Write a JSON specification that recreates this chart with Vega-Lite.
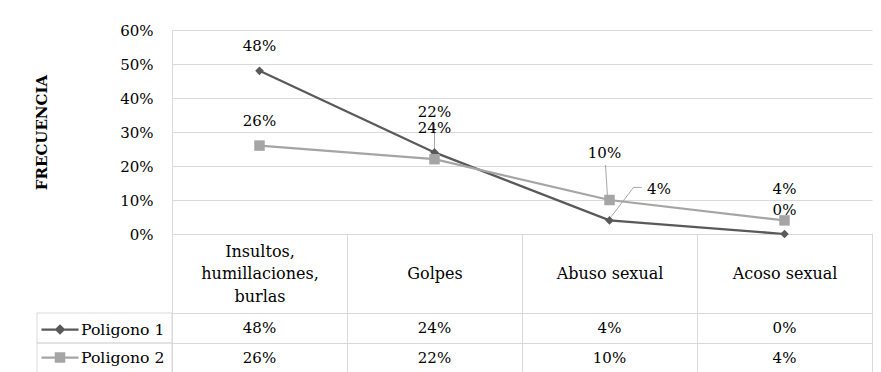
{
  "$schema": "https://vega.github.io/schema/vega-lite/v6.json",
  "background": "white",
  "padding": {"left": 34, "top": 23, "right": 8, "bottom": 0},
  "datasets": {
    "frecuencia": [
      {"category": "Insultos, humillaciones, burlas", "series": "Poligono 1", "value": 0.48},
      {"category": "Golpes", "series": "Poligono 1", "value": 0.24},
      {"category": "Abuso sexual", "series": "Poligono 1", "value": 0.04},
      {"category": "Acoso sexual", "series": "Poligono 1", "value": 0.0},
      {"category": "Insultos, humillaciones, burlas", "series": "Poligono 2", "value": 0.26},
      {"category": "Golpes", "series": "Poligono 2", "value": 0.22},
      {"category": "Abuso sexual", "series": "Poligono 2", "value": 0.10},
      {"category": "Acoso sexual", "series": "Poligono 2", "value": 0.04}
    ]
  },
  "columns": 2,
  "spacing": {"row": 79, "column": 0},
  "bounds": "flush",
  "align": "each",
  "resolve": {"scale": {"color": "independent"}},
  "concat": [
    {
      "width": 135,
      "height": 204,
      "data": {"values": []},
      "mark": "text"
    },
    {
      "width": 700,
      "height": 204,
      "data": {"name": "frecuencia"},
      "encoding": {
        "x": {
          "field": "category",
          "type": "nominal",
          "sort": null,
          "scale": {"type": "band", "paddingInner": 0, "paddingOuter": 0},
          "axis": {
            "title": null,
            "orient": "bottom",
            "domain": true,
            "domainColor": "#d9d9d9",
            "ticks": true,
            "tickBand": "extent",
            "tickSize": 79,
            "tickColor": "#d9d9d9",
            "grid": false,
            "labelAngle": 0,
            "labelFontSize": 16,
            "labelExpr": "indexof(datum.label, ',') >= 0 ? split(replace(replace(datum.label, ', ', ',|'), ', ', ',|'), '|') : ['', datum.label]",
            "labelBaseline": "middle",
            "labelLineHeight": 22.5,
            "labelPadding": -62
          }
        },
        "y": {
          "field": "value",
          "type": "quantitative",
          "scale": {"domain": [0, 0.6], "nice": false},
          "axis": {
            "title": "FRECUENCIA",
            "titleFontWeight": "bold",
            "titleFontSize": 15,
            "titleColor": "#000",
            "titlePadding": 70,
            "values": [0, 0.1, 0.2, 0.3, 0.4, 0.5, 0.6],
            "format": ".0%",
            "grid": true,
            "gridColor": "#d9d9d9",
            "domain": true,
            "domainColor": "#d9d9d9",
            "ticks": false,
            "labelPadding": 19
          }
        }
      },
      "layer": [
        {
          "mark": {"type": "line", "strokeWidth": 2.25},
          "encoding": {
            "color": {
              "field": "series",
              "type": "nominal",
              "scale": {"domain": ["Poligono 1", "Poligono 2"], "range": ["#595959", "#a5a5a5"]},
              "legend": {
                "orient": "none",
                "legendX": -121,
                "legendY": 290.5,
                "title": null,
                "direction": "vertical",
                "padding": 0,
                "rowPadding": 10,
                "symbolSize": 225,
                "labelOffset": 12,
                "labelFontSize": 15.7,
                "labelColor": "#000",
                "encode": {
                  "symbols": {
                    "update": {
                      "shape": {"signal": "datum.value === 'Poligono 1' ? 'M-2.47,0H2.47M0,-0.5L0.5,0L0,0.5L-0.5,0Z' : 'M-2.47,0H2.47M-0.55,-0.55H0.55V0.55H-0.55Z'"},
                      "fill": {"signal": "datum.value === 'Poligono 1' ? '#595959' : '#a5a5a5'"},
                      "stroke": {"signal": "datum.value === 'Poligono 1' ? '#595959' : '#a5a5a5'"},
                      "strokeWidth": {"value": 2.25},
                      "opacity": {"value": 1}
                    }
                  }
                }
              }
            }
          }
        },
        {
          "transform": [{"filter": "datum.series === 'Poligono 2' && datum.category === 'Golpes'"}],
          "mark": {"type": "rule", "color": "#a6a6a6", "strokeWidth": 1, "yOffset": -7, "y2Offset": -36},
          "encoding": {"y2": {"field": "value"}}
        },
        {
          "transform": [{"filter": "datum.series === 'Poligono 2' && datum.category === 'Abuso sexual'"}],
          "mark": {"type": "rule", "color": "#a6a6a6", "strokeWidth": 1, "xOffset": -2, "yOffset": -3, "x2Offset": -4, "y2Offset": -35},
          "encoding": {"x2": {"field": "category"}, "y2": {"field": "value"}}
        },
        {
          "transform": [{"filter": "datum.series === 'Poligono 1' && datum.category === 'Abuso sexual'"}],
          "mark": {"type": "rule", "color": "#a6a6a6", "strokeWidth": 1, "xOffset": 1.7, "yOffset": -3.7, "x2Offset": 24, "y2Offset": -33},
          "encoding": {"x2": {"field": "category"}, "y2": {"field": "value"}}
        },
        {
          "transform": [{"filter": "datum.series === 'Poligono 1' && datum.category === 'Abuso sexual'"}],
          "mark": {"type": "rule", "color": "#a6a6a6", "strokeWidth": 1, "xOffset": 24, "yOffset": -33, "x2Offset": 32.3, "y2Offset": -33},
          "encoding": {"x2": {"field": "category"}, "y2": {"field": "value"}}
        },
        {
          "transform": [{"filter": "datum.series === 'Poligono 1'"}],
          "mark": {"type": "point", "filled": true, "opacity": 1, "shape": "diamond", "size": 75, "color": "#595959"}
        },
        {
          "transform": [{"filter": "datum.series === 'Poligono 2'"}],
          "mark": {"type": "point", "filled": true, "opacity": 1, "shape": "square", "size": 110, "color": "#a5a5a5"}
        },
        {
          "transform": [{"filter": "!((datum.series === 'Poligono 2' && datum.category !== 'Insultos, humillaciones, burlas') || (datum.series === 'Poligono 1' && datum.category === 'Abuso sexual'))"}],
          "mark": {"type": "text", "fontSize": 15, "color": "#000", "baseline": "middle", "dy": -24.5},
          "encoding": {"text": {"field": "value", "type": "quantitative", "format": ".0%"}}
        },
        {
          "transform": [{"filter": "datum.series === 'Poligono 2' && datum.category === 'Golpes'"}],
          "mark": {"type": "text", "fontSize": 15, "color": "#000", "baseline": "middle", "dy": -47.7},
          "encoding": {"text": {"field": "value", "type": "quantitative", "format": ".0%"}}
        },
        {
          "transform": [{"filter": "datum.series === 'Poligono 2' && datum.category === 'Abuso sexual'"}],
          "mark": {"type": "text", "fontSize": 15, "color": "#000", "baseline": "middle", "dx": -5, "dy": -47},
          "encoding": {"text": {"field": "value", "type": "quantitative", "format": ".0%"}}
        },
        {
          "transform": [{"filter": "datum.series === 'Poligono 1' && datum.category === 'Abuso sexual'"}],
          "mark": {"type": "text", "fontSize": 15, "color": "#000", "baseline": "middle", "dx": 49.5, "dy": -31},
          "encoding": {"text": {"field": "value", "type": "quantitative", "format": ".0%"}}
        },
        {
          "transform": [{"filter": "datum.series === 'Poligono 2' && datum.category === 'Acoso sexual'"}],
          "mark": {"type": "text", "fontSize": 15, "color": "#000", "baseline": "middle", "dy": -31.4},
          "encoding": {"text": {"field": "value", "type": "quantitative", "format": ".0%"}}
        }
      ]
    },
    {
      "width": 135,
      "height": 60,
      "data": {"name": "frecuencia"},
      "transform": [{"aggregate": [{"op": "count", "as": "n"}], "groupby": ["series"]}],
      "mark": {"type": "rect", "filled": false, "color": "#d9d9d9", "strokeWidth": 1},
      "encoding": {
        "y": {"field": "series", "type": "nominal", "sort": ["Poligono 1", "Poligono 2"], "scale": {"type": "band", "paddingInner": 0, "paddingOuter": 0}, "axis": null}
      }
    },
    {
      "width": 700,
      "height": 60,
      "data": {"name": "frecuencia"},
      "mark": {"type": "text", "fontSize": 15, "color": "#000", "baseline": "middle"},
      "encoding": {
        "x": {
          "field": "category",
          "type": "nominal",
          "sort": null,
          "scale": {"type": "band", "paddingInner": 0, "paddingOuter": 0},
          "axis": {"title": null, "labels": false, "ticks": false, "domain": false, "grid": true, "tickBand": "extent", "gridColor": "#d9d9d9"}
        },
        "y": {
          "field": "series",
          "type": "nominal",
          "sort": ["Poligono 1", "Poligono 2"],
          "scale": {"type": "band", "paddingInner": 0, "paddingOuter": 0},
          "axis": {"title": null, "labels": false, "ticks": false, "domain": false, "grid": true, "tickBand": "extent", "gridColor": "#d9d9d9"}
        },
        "text": {"field": "value", "type": "quantitative", "format": ".0%"}
      }
    }
  ],
  "config": {
    "view": {"stroke": null},
    "font": "DejaVu Serif",
    "axis": {"labelFont": "DejaVu Serif", "labelFontSize": 15, "labelColor": "#000", "titleFont": "DejaVu Serif"},
    "legend": {"labelFont": "DejaVu Serif"},
    "text": {"font": "DejaVu Serif"}
  }
}
